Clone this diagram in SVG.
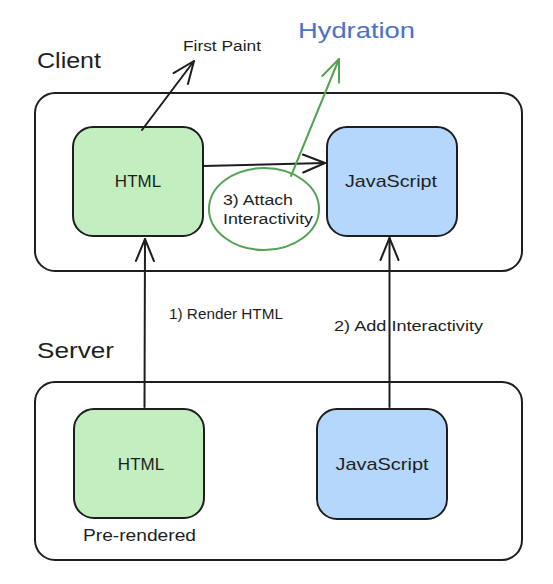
<svg xmlns="http://www.w3.org/2000/svg" width="553" height="584" viewBox="0 0 553 584">
  <style>
    .container { fill: #ffffff; stroke: #1e1e1e; stroke-width: 2; }
    .html { fill: #c3eec0; stroke: #1e1e1e; stroke-width: 2; }
    .js { fill: #b5d7fb; stroke: #1e1e1e; stroke-width: 2; }
    .t { font-family: "Liberation Sans", Arial, sans-serif; fill: #1e1e1e; }
    .lbl { font-size: 17px; text-anchor: middle; }
    .small { font-size: 14px; }
    .big { font-size: 22px; }
    .conn { fill: none; stroke: #1e1e1e; stroke-width: 2; stroke-linecap: round; }
    .green { fill: none; stroke: #54a354; stroke-width: 2; stroke-linecap: round; }
  </style>
  <defs>
    <marker id="ah" markerUnits="userSpaceOnUse" markerWidth="26" markerHeight="22" refX="23" refY="11" orient="auto">
      <path d="M1,2 L23,11 L1,20" fill="none" stroke="#1e1e1e" stroke-width="2" stroke-linecap="round" stroke-linejoin="round"/>
    </marker>
    <marker id="ahg" markerUnits="userSpaceOnUse" markerWidth="26" markerHeight="22" refX="23" refY="11" orient="auto">
      <path d="M1,2 L23,11 L1,20" fill="none" stroke="#54a354" stroke-width="2" stroke-linecap="round" stroke-linejoin="round"/>
    </marker>
  </defs>

  <g id="client-container">
    <rect class="container" x="35" y="93" width="487" height="178" rx="20"/>
    <text class="t big" x="37" y="68" textLength="64" lengthAdjust="spacingAndGlyphs">Client</text>
  </g>

  <g id="server-container">
    <rect class="container" x="35" y="382" width="487" height="178" rx="20"/>
    <text class="t big" x="37" y="358" textLength="77" lengthAdjust="spacingAndGlyphs">Server</text>
  </g>

  <g id="client-html">
    <rect class="html" x="73" y="127" width="130" height="109" rx="20"/>
    <text class="t lbl" x="138" y="187">HTML</text>
  </g>

  <g id="client-js">
    <rect class="js" x="327" y="127" width="130" height="109" rx="20"/>
    <text class="t lbl" x="391" y="187" textLength="92" lengthAdjust="spacingAndGlyphs">JavaScript</text>
  </g>

  <g id="server-html">
    <rect class="html" x="74" y="409" width="130" height="109" rx="20"/>
    <text class="t lbl" x="141" y="470">HTML</text>
    <text class="t" x="83" y="541" font-size="16" textLength="113" lengthAdjust="spacingAndGlyphs">Pre-rendered</text>
  </g>

  <g id="server-js">
    <rect class="js" x="317" y="409" width="130" height="110" rx="20"/>
    <text class="t lbl" x="382" y="470" textLength="93" lengthAdjust="spacingAndGlyphs">JavaScript</text>
  </g>

  <g id="attach">
    <ellipse cx="264" cy="209" rx="55" ry="41" fill="none" stroke="#54a354" stroke-width="2"/>
    <text class="t small" x="223" y="205" textLength="70" lengthAdjust="spacingAndGlyphs">3) Attach</text>
    <text class="t small" x="223" y="224" textLength="90" lengthAdjust="spacingAndGlyphs">Interactivity</text>
  </g>

  <g id="first-paint">
    <text class="t small" x="183" y="51" textLength="78" lengthAdjust="spacingAndGlyphs">First Paint</text>
  </g>

  <g id="hydration">
    <text class="t big" x="298" y="38" fill="#4a72c6" style="fill:#4a72c6" textLength="117" lengthAdjust="spacingAndGlyphs">Hydration</text>
  </g>

  <g id="connectors">
    <line class="conn" x1="144.5" y1="407" x2="145" y2="239" marker-end="url(#ah)"/>
    <line class="conn" x1="389.5" y1="407" x2="389.5" y2="238" marker-end="url(#ah)"/>
    <line class="conn" x1="203" y1="166" x2="325" y2="163" marker-end="url(#ah)"/>
    <line class="conn" x1="142" y1="130" x2="194" y2="61" marker-end="url(#ah)"/>
    <line class="green" x1="291" y1="176" x2="339" y2="59" marker-end="url(#ahg)"/>
    <text class="t small" x="169" y="319" textLength="114" lengthAdjust="spacingAndGlyphs">1) Render HTML</text>
    <text class="t small" x="334" y="331" textLength="149" lengthAdjust="spacingAndGlyphs">2) Add Interactivity</text>
  </g>
</svg>
